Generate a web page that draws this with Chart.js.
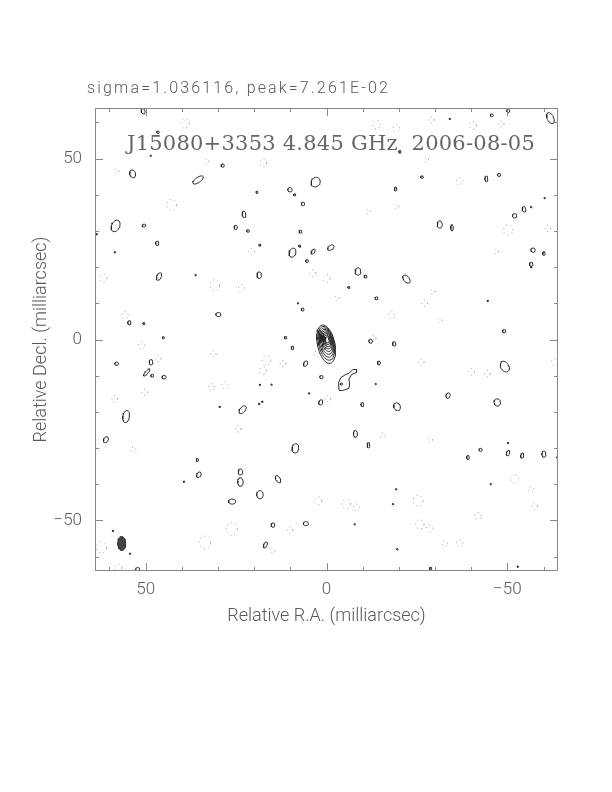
<!DOCTYPE html>
<html>
<head>
<meta charset="utf-8">
<script src="https://cdn.jsdelivr.net/npm/chart.js@4.4.1/dist/chart.umd.min.js"></script>
<style>
  html, body { margin: 0; padding: 0; background: #fff; }
  canvas { display: block; }
</style>
</head>
<body>
<canvas id="map" width="612" height="792"></canvas>
<script>
// Header texts
const headerText = 'sigma=1.036116, peak=7.261E-02';
const plotTitle = 'J15080+3353 4.845 GHz  2006-08-05';
const xLabel = 'Relative R.A. (milliarcsec)';
const yLabel = 'Relative Decl. (milliarcsec)';

// Axis ranges and ticks (milliarcsec)
const axisMin = -64, axisMax = 64;
const majorTicks = [-50, 0, 50];
const minorTicks = [-60, -40, -30, -20, -10, 10, 20, 30, 40, 60];

// Core of the source: nested contour levels [cx, cy, rx, ry]
const coreLevels = [
    [0.1, -1.3, 2.4, 5.4],
    [0.05, -1.05, 2.15, 4.75],
    [0.0, -0.85, 1.9, 4.1],
    [-0.05, -0.65, 1.65, 3.5],
    [-0.1, -0.45, 1.42, 2.9],
    [-0.12, -0.3, 1.2, 2.35],
    [-0.15, -0.2, 0.98, 1.85],
    [-0.18, -0.1, 0.75, 1.35],
    [-0.2, -0.1, 0.5, 0.85]
];
const coreTilt = 12;

// Irregular positive contour south-west of the core
const blobX = [-3.5, -3.3, -3.9, -5.1, -6.4, -7.3, -8.3, -8.3, -6.9, -6.2, -6.4, -6.2, -5.1, -4.4, -3.5];
const blobY = [-14.1, -12.1, -10.6, -9.8, -9.2, -8.3, -8.3, -9.1, -9.7, -10.9, -12.3, -13.5, -13.9, -14.1, -14.1];

// Positive noise contours [x, y, rx, ry, tilt]
const posBlobs = [
    [50.7, 63.1, 0.5, 0.8, 20], [46.6, 57.3, 0.35, 0.35, 0], [28.7, 48.1, 0.45, 0.45, 0],
    [53.6, 45.8, 0.8, 1.1, 15], [35.5, 44.1, 1.7, 0.7, 35], [22.8, 34.6, 0.5, 0.9, 10],
    [58.3, 31.4, 1.1, 1.7, -25], [50.5, 31.5, 0.5, 0.35, 20], [25.1, 31.0, 0.45, 0.55, 0],
    [21.7, 30.0, 0.35, 0.35, 0], [46.8, 26.6, 0.45, 0.6, 0], [46.3, 17.4, 0.6, 1.1, -25],
    [29.9, 6.9, 0.7, 0.55, 0], [54.5, 4.6, 0.45, 0.6, 0], [50.5, 4.4, 0.3, 0.3, 0],
    [45.1, 0.5, 0.3, 0.3, 0],
    [3.0, 43.5, 1.2, 1.4, -35], [10.1, 41.4, 0.6, 0.6, 0], [8.8, 40.0, 0.3, 0.3, 0],
    [6.5, 37.5, 0.45, 0.5, 0], [-19.1, 41.6, 0.35, 0.55, 0], [7.2, 29.8, 0.4, 0.4, 0],
    [9.4, 24.0, 0.9, 1.3, -20], [7.4, 25.8, 0.3, 0.3, 0], [3.7, 24.3, 0.4, 0.8, -35],
    [5.4, 21.7, 0.4, 0.4, 0], [-1.2, 25.4, 1.0, 0.6, 35], [18.4, 26.1, 0.3, 0.3, 0],
    [18.6, 17.8, 0.6, 0.9, 0], [-8.7, 18.8, 0.8, 1.0, 0], [-10.8, 17.4, 0.4, 0.4, 0],
    [-6.2, 14.4, 0.3, 0.3, 0], [-13.8, 11.4, 0.4, 0.4, 0], [6.6, 8.3, 0.4, 0.4, 0],
    [11.3, 0.5, 0.35, 0.35, 0], [19.2, 40.7, 0.3, 0.3, 0],
    [-61.9, 61.2, 0.9, 1.6, 25], [-45.7, 62.0, 0.4, 0.4, 0], [-50.2, 63.2, 0.4, 0.5, 0],
    [-26.4, 44.9, 0.35, 0.35, 0], [-44.2, 44.4, 0.4, 0.8, 0], [-47.7, 45.5, 0.4, 0.45, 0],
    [-54.6, 36.0, 0.5, 0.75, 15], [-52.0, 34.2, 0.6, 0.6, 0], [-31.3, 31.8, 0.7, 1.0, 0],
    [-34.7, 30.9, 0.35, 0.85, 0], [-57.1, 24.7, 0.6, 0.6, 0], [-60.1, 23.8, 0.35, 0.5, 0],
    [-56.6, 20.8, 0.5, 0.55, 0], [-22.1, 16.7, 0.8, 1.3, 40], [-49.1, 2.3, 0.45, 0.45, 0],
    [-20.3, 51.9, 0.3, 0.4, 0],
    [58.0, -6.7, 0.5, 0.45, 0], [48.5, -6.3, 0.5, 0.75, 0], [49.7, -9.1, 0.35, 1.3, -40],
    [48.2, -10.0, 0.4, 0.4, 0], [44.9, -10.4, 0.55, 0.5, 0], [55.4, -21.3, 0.9, 1.7, -10],
    [23.2, -19.4, 0.7, 1.3, -40], [61.0, -27.7, 0.6, 0.9, -30], [35.7, -33.3, 0.3, 0.45, 0],
    [35.3, -37.4, 0.55, 0.85, -30], [23.8, -36.6, 0.6, 0.85, 0], [23.8, -39.4, 0.75, 1.2, 0],
    [26.1, -44.8, 1.0, 0.7, 0], [52.2, -63.8, 0.6, 0.8, 0],
    [9.4, -2.3, 0.35, 0.5, 0], [5.8, -6.7, 0.5, 0.8, -25], [1.4, -10.4, 0.45, 0.45, 0],
    [-12.2, -0.5, 0.5, 0.55, 0], [-18.7, -1.2, 0.45, 0.6, 0], [-14.5, -6.5, 0.4, 0.55, 0],
    [1.6, -17.4, 0.5, 0.75, -20], [-9.9, -18.0, 0.4, 0.55, 0], [-19.5, -18.6, 0.9, 1.1, 20],
    [-8.0, -26.1, 0.55, 0.95, 0], [-11.6, -29.2, 0.35, 0.75, 0], [8.6, -30.1, 0.9, 1.3, -10],
    [13.4, -38.6, 0.6, 1.1, 30], [18.4, -42.9, 0.9, 1.1, 0], [5.7, -50.9, 0.7, 0.55, 0],
    [14.8, -51.3, 0.5, 0.6, 0], [16.9, -56.8, 0.45, 0.9, -25], [-4.1, -12.3, 0.3, 0.3, 0],
    [-49.3, -7.5, 1.1, 1.6, 30], [-33.6, -15.5, 0.55, 0.75, -20], [-47.2, -17.4, 0.9, 1.0, 0],
    [-42.6, -30.5, 0.45, 0.4, 0], [-39.1, -32.6, 0.35, 0.55, 0], [-50.2, -31.4, 0.45, 0.75, -20],
    [-54.1, -32.1, 0.4, 0.75, -15], [-60.1, -31.7, 0.55, 0.85, 0], [-28.8, -63.4, 0.3, 0.5, 0]
];

// Tiny single-pixel positive contours [x, y]
const tinyBlobs = [
    [48.6, 50.8], [58.5, 24.1], [36.2, 17.8], [63.5, 29.1], [-34.1, 61.0], [-56.6, 36.6],
    [-44.6, 10.7], [-60.3, 39.1], [29.5, -18.6], [39.4, -39.3], [54.3, -59.2], [59.0, -52.9],
    [-13.6, -12.3], [17.7, -17.2], [18.6, -17.8], [18.4, -12.5], [-19.3, -41.4], [-18.4, -45.5],
    [-19.6, -58.0], [-7.8, -51.1], [4.8, -14.9], [15.2, -12.5], [-50.2, -28.6], [-45.4, -40.0],
    [-52.9, -62.8], [-63.8, -32.6], [7.9, 10.0], [-56.6, 20.0]
];

// Negative (dotted) contours [x, y, r]
const negBlobs = [
    [39.1, 59.8, 1.2], [42.8, 37.2, 1.4], [61.7, 16.9, 1.0], [30.9, 15.0, 1.4], [23.5, 14.1, 0.9],
    [33.1, 49.2, 0.6], [58.0, 46.5, 0.6], [55.7, 6.7, 0.9],
    [-13.8, 59.4, 1.1], [-19.3, 58.4, 0.9], [17.5, 48.8, 1.0], [0.0, 16.9, 1.0], [3.7, 18.3, 0.8],
    [-12.9, 0.3, 0.8], [-18.0, 6.7, 0.9], [-11.5, 35.4, 0.6], [-19.3, 36.8, 0.6], [-2.9, 11.4, 0.6],
    [20.7, 24.3, 0.8],
    [-29.0, 60.7, 0.8], [-48.3, 59.6, 0.8], [-40.5, 59.2, 1.0], [-27.6, 49.7, 0.6], [-36.8, 43.7, 0.9],
    [-50.2, 30.3, 1.3], [-47.0, 24.3, 0.6], [-29.4, 13.2, 0.6], [-27.2, 10.0, 0.8], [-31.3, 5.2, 0.6],
    [-61.2, 30.7, 0.8],
    [51.1, -1.7, 0.9], [46.5, -5.3, 0.8], [31.3, -4.0, 0.8], [31.8, -13.2, 0.9], [28.1, -12.7, 0.9],
    [50.2, -14.6, 0.8], [58.5, -16.4, 0.8], [24.4, -24.7, 0.8], [53.4, -30.5, 0.7], [62.2, -57.5, 1.4],
    [33.6, -56.1, 1.6], [26.2, -52.4, 1.6], [57.6, -63.1, 1.0],
    [16.6, -5.8, 1.2], [17.5, -8.6, 1.0], [12.0, -6.7, 0.8], [-0.4, -16.4, 0.8], [-15.6, -26.6, 0.7],
    [2.3, -44.6, 1.0], [-5.5, -45.5, 1.2], [-8.3, -46.5, 0.9], [10.1, -52.7, 0.8], [14.8, -58.4, 0.6],
    [2.8, -4.0, 0.7],
    [-26.2, -6.3, 0.8], [-40.1, -8.9, 0.8], [-44.5, -9.5, 0.8], [-63.1, -6.3, 0.9], [-28.7, -27.8, 0.6],
    [-52.0, -38.6, 1.1], [-56.6, -41.4, 0.7], [-25.3, -44.6, 1.4], [-57.5, -46.0, 0.8], [-41.9, -48.8, 0.9],
    [-25.8, -51.1, 1.2], [-28.5, -52.3, 0.9], [-36.8, -56.4, 0.9], [-32.7, -56.4, 0.7]
];

// Restoring beam [x, y, rx, ry]
const beam = [56.6, -56.4, 1.1, 1.95];

// Outline of an ellipse in data units; screen x grows to the left of data x (R.A. reversed)
function ellipse(cx, cy, rx, ry, tiltDeg, n) {
    n = n || 32;
    const th = tiltDeg * Math.PI / 180;
    const pts = [];
    for (let i = 0; i <= n; i++) {
        const t = 2 * Math.PI * i / n;
        const sx = rx * Math.cos(t) * Math.cos(th) - ry * Math.sin(t) * Math.sin(th);
        const sy = rx * Math.cos(t) * Math.sin(th) + ry * Math.sin(t) * Math.cos(th);
        pts.push({ x: cx - sx, y: cy + sy });
    }
    return pts;
}

// Join several outlines into one dataset, separated by gaps
function joined(list) {
    const out = [];
    list.forEach(pts => {
        out.push(...pts);
        out.push({ x: NaN, y: NaN });
    });
    return out;
}

const posData = joined([
    ...posBlobs.map(b => ellipse(b[0], b[1], b[2], b[3], b[4], 24)),
    ...tinyBlobs.map(b => ellipse(b[0], b[1], 0.2, 0.2, 0, 8))
]);
const negData = joined(negBlobs.map(b => ellipse(b[0], b[1], b[2], b[2] * 1.1, 0, 12)));
const coreData = joined(coreLevels.map(l => ellipse(l[0], l[1], l[2], l[3], coreTilt, 40)));
const blobData = blobX.map((x, i) => ({ x: x, y: blobY[i] }));
const beamData = ellipse(beam[0], beam[1], beam[2], beam[3], 0, 32);

const ink = '#2a2a2a';
const textColor = '#5a5a5a';
const frameColor = '#888';

// draw text stretched to a given width with letter spacing
function spacedText(ctx, text, x, y, width) {
    ctx.letterSpacing = '0px';
    const w = ctx.measureText(text).width;
    ctx.letterSpacing = ((width - w) / text.length) + 'px';
    ctx.fillText(text, x, y);
    ctx.letterSpacing = '0px';
}

// Frame, inward ticks and texts
const framePlugin = {
    id: 'frame',
    afterDraw(chart) {
        const ctx = chart.ctx;
        const a = chart.chartArea;
        const xs = chart.scales.x, ys = chart.scales.y;
        ctx.save();
        ctx.strokeStyle = frameColor;
        ctx.lineWidth = 1;
        ctx.strokeRect(a.left + 0.5, a.top + 0.5, a.right - a.left - 1, a.bottom - a.top - 1);
        ctx.beginPath();
        const tick = (v, len) => {
            const px = Math.round(xs.getPixelForValue(v)) + 0.5;
            ctx.moveTo(px, a.bottom); ctx.lineTo(px, a.bottom - len);
            ctx.moveTo(px, a.top); ctx.lineTo(px, a.top + len);
            const py = Math.round(ys.getPixelForValue(v)) + 0.5;
            ctx.moveTo(a.left, py); ctx.lineTo(a.left + len, py);
            ctx.moveTo(a.right, py); ctx.lineTo(a.right - len, py);
        };
        majorTicks.forEach(v => tick(v, 8));
        minorTicks.forEach(v => tick(v, 4));
        ctx.stroke();

        ctx.fillStyle = textColor;
        ctx.textBaseline = 'middle';
        ctx.textAlign = 'left';
        // header above the frame
        ctx.font = '300 16px Roboto';
        spacedText(ctx, headerText, 87, 89, 303);
        // source title inside the frame
        ctx.fillStyle = '#666';
        ctx.font = '21px "DejaVu Serif"';
        spacedText(ctx, plotTitle, 127, ys.getPixelForValue(54), 408);
        ctx.restore();
    }
};

const axisFont = { family: 'Roboto', size: 17, weight: '300' };
const labelFont = { family: 'Roboto', size: 18, weight: '300' };

new Chart(document.getElementById('map'), {
    type: 'scatter',
    data: {
        datasets: [
            { data: negData, showLine: true, borderColor: '#999', borderWidth: 1, borderDash: [1, 3.5], pointRadius: 0 },
            { data: posData, showLine: true, borderColor: ink, borderWidth: 1, pointRadius: 0 },
            { data: blobData, showLine: true, borderColor: ink, borderWidth: 1, pointRadius: 0 },
            { data: coreData, showLine: true, borderColor: ink, borderWidth: 1, pointRadius: 0 },
            { data: beamData, showLine: true, borderColor: '#333', backgroundColor: '#444', fill: 'shape', borderWidth: 1, pointRadius: 0 }
        ]
    },
    options: {
        responsive: false,
        animation: false,
        devicePixelRatio: 1,
        events: [],
        layout: { padding: { left: 26, right: 54, top: 108, bottom: 161 } },
        plugins: { legend: { display: false }, tooltip: { enabled: false } },
        scales: {
            x: {
                type: 'linear', reverse: true, min: axisMin, max: axisMax,
                afterFit: s => { s.height = 60; },
                afterBuildTicks: s => { s.ticks = majorTicks.map(v => ({ value: v })); },
                grid: { display: false, drawTicks: false },
                border: { display: false },
                ticks: {
                    padding: 9, color: textColor, font: axisFont, maxRotation: 0,
                    callback: v => String(v).replace('-', '\u2212')
                },
                title: { display: true, text: xLabel, color: textColor, font: labelFont, padding: { top: 0, bottom: 4 } }
            },
            y: {
                type: 'linear', min: axisMin, max: axisMax,
                afterFit: s => { s.width = 69; },
                afterBuildTicks: s => { s.ticks = majorTicks.map(v => ({ value: v })); },
                grid: { display: false, drawTicks: false },
                border: { display: false },
                ticks: {
                    padding: 13, color: textColor, font: axisFont,
                    callback: v => String(v).replace('-', '\u2212')
                },
                title: { display: true, text: yLabel, color: textColor, font: labelFont, padding: { top: 5, bottom: 0 } }
            }
        }
    },
    plugins: [framePlugin]
});
</script>
</body>
</html>
